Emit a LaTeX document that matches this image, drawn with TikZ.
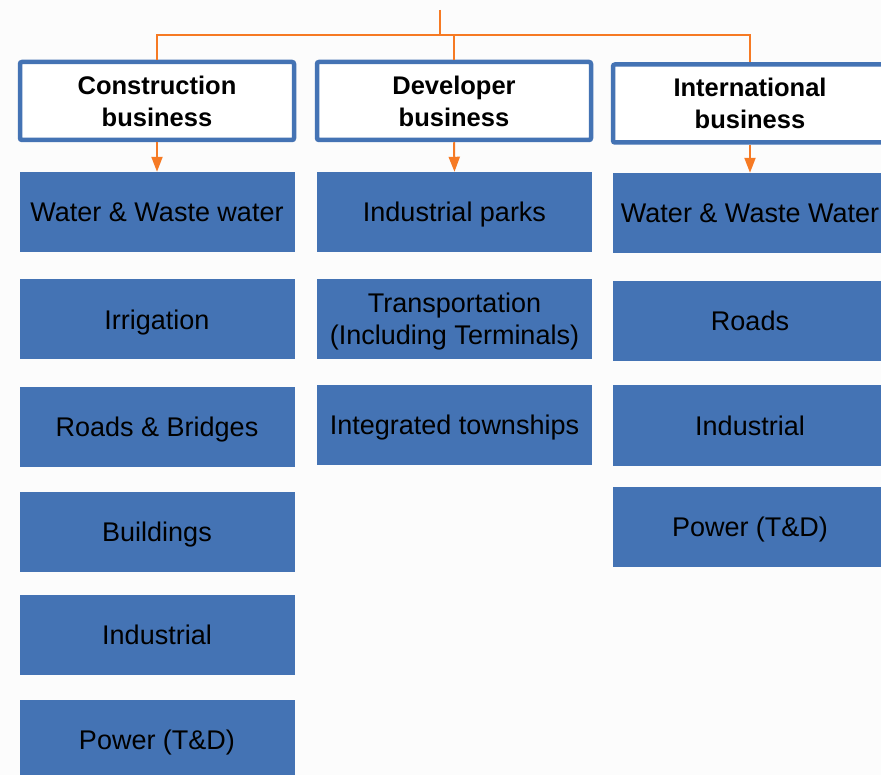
\documentclass[tikz,border=0pt]{standalone}
\usepackage{fontspec}
\setmainfont{Liberation Sans}
\usetikzlibrary{arrows.meta}
\definecolor{bleu}{RGB}{68,115,180}
\definecolor{orangeL}{RGB}{246,122,36}
\definecolor{fond}{RGB}{252,252,252}

\begin{document}
\begin{tikzpicture}[x=1pt,y=-1pt]
%styles : entêtes de branche, pôles d'activité et liens
\tikzset{entete/.style={draw=bleu,line width=4.5pt,fill=white,rounded corners=2pt,minimum width=274pt,minimum height=78pt,text depth=0pt,align=center,font=\fontsize{25.5}{32}\selectfont\bfseries},
pole/.style={fill=bleu,minimum width=275pt,minimum height=80pt,text depth=0pt,align=center,font=\fontsize{27}{32}\selectfont},
lien/.style={draw=orangeL,line width=2pt},
fleche/.style={lien,-{Triangle[width=11pt,length=15pt]}}}
\fill[fond] (0,0) rectangle (881,775);
\useasboundingbox (0,0) rectangle (881,775);
\clip (0,0) rectangle (881,775);
% les trois branches
\node[entete] (cons) at (157,101) {Construction\\business};
\node[entete] (dev) at (454,101) {Developer\\business};
\node[entete] (intl) at (750,103.5) {International\\business};
% rattachement au sommet
\coordinate (sommet) at (440,10);
\coordinate (bus) at (440,35);
\draw[lien] (sommet) -- (bus);
\draw[lien] (bus) -| (cons.north);
\draw[lien] (bus) -| (dev.north);
\draw[lien] (bus) -| (intl.north);
% colonne construction
\node[pole] (c1) at (157,212) {Water \& Waste water};
\node[pole] (c2) at (157,319.5) {Irrigation};
\node[pole] (c3) at (157,427) {Roads \& Bridges};
\node[pole] (c4) at (157,532) {Buildings};
\node[pole] (c5) at (157,634.5) {Industrial};
\node[pole] (c6) at (157,740) {Power (T\&D)};
% colonne developer
\node[pole] (d1) at (454.5,212) {Industrial parks};
\node[pole] (d2) at (454.5,319) {Transportation\\(Including Terminals)};
\node[pole] (d3) at (454.5,425) {Integrated townships};
% colonne international
\node[pole] (i1) at (750,213) {Water \& Waste Water};
\node[pole] (i2) at (750,321) {Roads};
\node[pole] (i3) at (750,425.5) {Industrial};
\node[pole] (i4) at (750,527) {Power (T\&D)};
% flèches vers les pôles
\draw[fleche] (cons.south) -- (c1.north);
\draw[fleche] (dev.south) -- (d1.north);
\draw[fleche] (intl.south) -- (i1.north);
\end{tikzpicture}
\end{document}
